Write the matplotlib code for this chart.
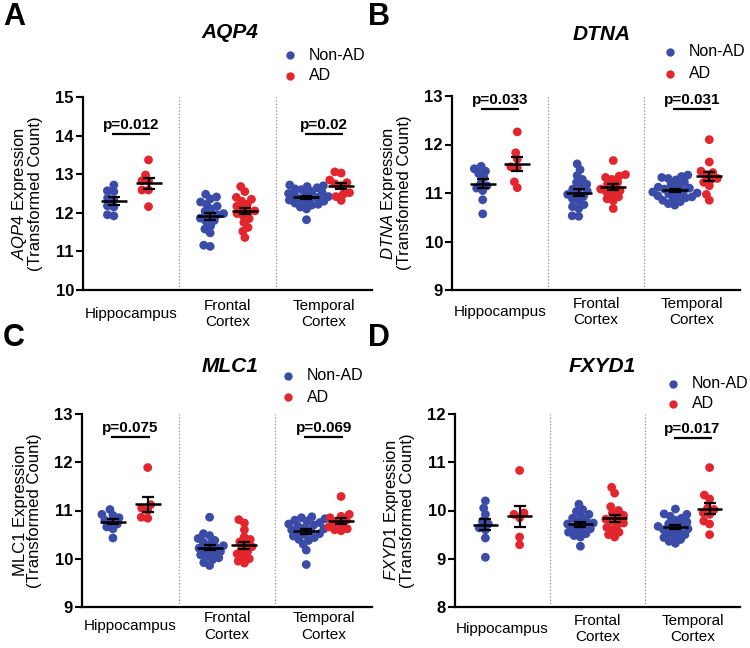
import numpy as np
import matplotlib.pyplot as plt
from matplotlib.lines import Line2D

plt.rcParams['font.family'] = 'Liberation Sans'
plt.rcParams['mathtext.fontset'] = 'custom'
plt.rcParams['mathtext.rm'] = 'Liberation Sans'
plt.rcParams['mathtext.it'] = 'Liberation Sans:italic'
plt.rcParams['mathtext.bf'] = 'Liberation Sans:bold'

regions = ['Hippocampus', 'Frontal\nCortex', 'Temporal\nCortex']
groups = ['Non-AD', 'AD']
colors = ['#3b4ca8', '#e3262d']

# AQP4
aqp4_hip_ctrl = [12.72, 12.57, 12.55, 12.38, 12.33, 12.18, 12.15, 11.92, 11.95]
aqp4_hip_ad = [13.37, 12.98, 12.83, 12.83, 12.59, 12.59, 12.16]
aqp4_fc_ctrl = [12.48, 12.41, 12.36, 12.28, 12.22, 12.17, 12.10, 12.04, 11.98, 11.95,
                11.92, 11.86, 11.80, 11.78, 11.66, 11.58, 11.48, 11.16, 11.13]
aqp4_fc_ad = [12.68, 12.55, 12.40, 12.35, 12.30, 12.22, 12.17, 12.10, 12.05, 12.02,
              11.98, 11.92, 11.85, 11.75, 11.62, 11.52, 11.36]
aqp4_tc_ctrl = [12.72, 12.70, 12.68, 12.65, 12.62, 12.60, 12.55, 12.52, 12.50, 12.48,
                12.45, 12.42, 12.40, 12.38, 12.36, 12.33, 12.30, 12.28, 12.25, 12.22,
                12.20, 12.15, 12.10, 11.82]
aqp4_tc_ad = [13.06, 13.03, 12.85, 12.78, 12.75, 12.70, 12.52, 12.48, 12.42, 12.32]
aqp4_p = ['p=0.012', None, 'p=0.02']

# DTNA
dtna_hip_ctrl = [11.55, 11.50, 11.45, 11.40, 11.32, 11.20, 11.15, 11.10, 11.05, 10.86, 10.57]
dtna_hip_ad = [12.26, 11.83, 11.70, 11.54, 11.52, 11.11, 11.23]
dtna_fc_ctrl = [11.60, 11.48, 11.36, 11.28, 11.22, 11.18, 11.12, 11.08, 11.04, 11.00,
                10.97, 10.93, 10.88, 10.84, 10.76, 10.72, 10.68, 10.53, 10.52]
dtna_fc_ad = [11.67, 11.38, 11.35, 11.32, 11.28, 11.22, 11.18, 11.12, 11.08, 11.05,
              11.02, 10.98, 10.92, 10.88, 10.84, 10.68]
dtna_tc_ctrl = [11.37, 11.34, 11.32, 11.30, 11.27, 11.22, 11.18, 11.15, 11.12, 11.10,
                11.08, 11.06, 11.04, 11.02, 11.00, 10.98, 10.96, 10.94, 10.92, 10.90,
                10.88, 10.85, 10.82, 10.78, 10.75]
dtna_tc_ad = [12.10, 11.64, 11.45, 11.42, 11.38, 11.30, 11.28, 11.22, 11.15, 10.97, 10.85]
dtna_p = ['p=0.033', None, 'p=0.031']

# MLC1
mlc1_hip_ctrl = [11.02, 10.92, 10.90, 10.85, 10.80, 10.76, 10.72, 10.66, 10.62, 10.43]
mlc1_hip_ad = [11.89, 11.12, 11.05, 11.00, 10.86, 10.84]
mlc1_fc_ctrl = [10.86, 10.52, 10.48, 10.42, 10.38, 10.34, 10.30, 10.27, 10.24, 10.22,
                10.18, 10.15, 10.12, 10.08, 10.05, 10.02, 9.98, 9.92, 9.86]
mlc1_fc_ad = [10.81, 10.74, 10.60, 10.45, 10.40, 10.35, 10.30, 10.25, 10.20, 10.15,
              10.10, 10.05, 10.00, 9.95, 9.91]
mlc1_tc_ctrl = [10.87, 10.85, 10.83, 10.80, 10.78, 10.75, 10.72, 10.70, 10.68, 10.65,
                10.62, 10.60, 10.58, 10.55, 10.52, 10.50, 10.47, 10.44, 10.40, 10.38,
                10.30, 10.18, 9.88]
mlc1_tc_ad = [11.29, 10.92, 10.88, 10.85, 10.80, 10.76, 10.72, 10.66, 10.62, 10.60, 10.58]
mlc1_p = ['p=0.075', None, 'p=0.069']

# FXYD1
fxyd1_hip_ctrl = [10.20, 10.05, 9.92, 9.78, 9.72, 9.64, 9.60, 9.43, 9.03]
fxyd1_hip_ad = [10.83, 9.95, 9.92, 9.85, 9.45, 9.29]
fxyd1_fc_ctrl = [10.13, 10.02, 9.98, 9.92, 9.88, 9.84, 9.80, 9.76, 9.74, 9.72,
                 9.68, 9.65, 9.62, 9.58, 9.55, 9.52, 9.48, 9.45, 9.26]
fxyd1_fc_ad = [10.48, 10.36, 10.08, 10.00, 9.95, 9.90, 9.86, 9.82, 9.78, 9.74,
               9.70, 9.65, 9.60, 9.55, 9.50, 9.45]
fxyd1_tc_ctrl = [10.03, 9.93, 9.92, 9.88, 9.84, 9.80, 9.76, 9.72, 9.70, 9.67,
                 9.64, 9.62, 9.60, 9.57, 9.54, 9.50, 9.47, 9.44, 9.40, 9.36, 9.32]
fxyd1_tc_ad = [10.89, 10.32, 10.24, 10.05, 10.02, 9.95, 9.92, 9.78, 9.72, 9.50]
fxyd1_p = [None, None, 'p=0.017']

W, H = 750, 648


def swarm(vals, px_per_unit, d=6.5):
    # simple beeswarm: offsets (pixels) so that dots don't pile up
    vals = np.asarray(vals)
    xs = np.zeros(len(vals))
    placed = []
    for i in np.argsort(vals):
        y = vals[i] * px_per_unit
        cands = [0.0]
        near = []
        for px, py in placed:
            dy = y - py
            if abs(dy) < d:
                dx = np.sqrt(d * d - dy * dy)
                near.append((px, dx))
                cands += [px - dx, px + dx]
        cands.sort(key=abs)
        for c in cands:
            if all(abs(c - px) >= dx - 1e-9 for px, dx in near):
                xs[i] = c
                break
        placed.append((xs[i], y))
    return xs


fig = plt.figure(figsize=(W / 100, H / 100), dpi=100)

panels = [
    dict(box=(83, 97, 372, 290), ylim=(10, 15),
         data=[[aqp4_hip_ctrl, aqp4_hip_ad], [aqp4_fc_ctrl, aqp4_fc_ad], [aqp4_tc_ctrl, aqp4_tc_ad]],
         pvals=aqp4_p, pline=14.05, ylabel='$\\mathit{AQP4}$ Expression\n(Transformed Count)',
         title='AQP4', tpos=(230, 33), leg=(290, 55, 76), letter='A', lpos=(3, 17), pad=17),
    dict(box=(452, 96, 740, 290), ylim=(9, 13),
         data=[[dtna_hip_ctrl, dtna_hip_ad], [dtna_fc_ctrl, dtna_fc_ad], [dtna_tc_ctrl, dtna_tc_ad]],
         pvals=dtna_p, pline=12.73, ylabel='$\\mathit{DTNA}$ Expression\n(Transformed Count)',
         title='DTNA', tpos=(602, 35), leg=(670, 52, 74), letter='B', lpos=(368, 17), pad=16),
    dict(box=(82, 414, 372, 607), ylim=(9, 13),
         data=[[mlc1_hip_ctrl, mlc1_hip_ad], [mlc1_fc_ctrl, mlc1_fc_ad], [mlc1_tc_ctrl, mlc1_tc_ad]],
         pvals=mlc1_p, pline=12.52, ylabel='MLC1 Expression\n(Transformed Count)',
         title='MLC1', tpos=(230, 367), leg=(288, 376, 397), letter='C', lpos=(3, 338), pad=14),
    dict(box=(455, 414, 740, 607), ylim=(8, 12),
         data=[[fxyd1_hip_ctrl, fxyd1_hip_ad], [fxyd1_fc_ctrl, fxyd1_fc_ad], [fxyd1_tc_ctrl, fxyd1_tc_ad]],
         pvals=fxyd1_p, pline=11.5, ylabel='$\\mathit{FXYD1}$ Expression\n(Transformed Count)',
         title='FXYD1', tpos=(602, 367), leg=(673, 384, 404), letter='D', lpos=(368, 338), pad=16),
]

for p in panels:
    l, t, r, b = p['box']
    ax = fig.add_axes([l / W, 1 - b / H, (r - l) / W, (b - t) / H])
    ax.set_xlim(0, 6)
    ax.set_ylim(*p['ylim'])
    xpx = (r - l) / 6
    ypx = (b - t) / (p['ylim'][1] - p['ylim'][0])

    for x in (2, 4):
        ax.axvline(x, ls=':', color='0.55', lw=0.9, zorder=1)

    for ri, pair in enumerate(p['data']):
        for gi, vals in enumerate(pair):
            vals = np.asarray(vals)
            xc = 2 * ri + 1 + (-0.36 if gi == 0 else 0.36)
            off = swarm(vals, ypx) / xpx
            ax.scatter(xc + off, vals, s=40, color=colors[gi], edgecolors='none',
                       zorder=2, clip_on=False)
            m = vals.mean()
            sem = vals.std(ddof=1) / np.sqrt(len(vals))
            ax.errorbar(xc, m, yerr=sem, fmt='none', ecolor='k', elinewidth=1.6,
                        capsize=4.5, capthick=1.6, zorder=3)
            ax.hlines(m, xc - 0.27, xc + 0.27, color='k', lw=1.8, zorder=3)

        if p['pvals'][ri]:
            xm = 2 * ri + 1
            ax.hlines(p['pline'], xm - 0.4, xm + 0.4, color='k', lw=1.6)
            ax.annotate(p['pvals'][ri], (xm, p['pline']), xytext=(0, 3.5),
                        textcoords='offset points', ha='center', va='baseline',
                        fontsize=11, fontweight='bold')

    for s in ('top', 'right'):
        ax.spines[s].set_visible(False)
    for s in ('left', 'bottom'):
        ax.spines[s].set_linewidth(1.6)
    ax.set_yticks(np.arange(p['ylim'][0], p['ylim'][1] + 1))
    ax.tick_params(axis='y', length=5, width=1.5, labelsize=12, pad=1.5)
    for lab in ax.get_yticklabels():
        lab.set_fontweight('bold')
    ax.set_xticks([1, 3, 5])
    ax.set_xticklabels(regions, fontsize=11, va='center')
    ax.tick_params(axis='x', length=0, pad=p['pad'])
    ax.set_ylabel(p['ylabel'], fontsize=12, labelpad=9, linespacing=0.95)

    fig.text(p['tpos'][0] / W, 1 - p['tpos'][1] / H, p['title'], ha='center', va='center',
             fontsize=15, fontweight='bold', fontstyle='italic')
    fig.text(p['lpos'][0] / W, 1 - p['lpos'][1] / H, p['letter'], ha='left', va='center',
             fontsize=22, fontweight='bold')
    lx, ly1, ly2 = p['leg']
    for gi, yy in enumerate((ly1, ly2)):
        fig.add_artist(Line2D([lx / W], [1 - yy / H], marker='o', ms=5, color=colors[gi],
                              transform=fig.transFigure))
        fig.text((lx + 19) / W, 1 - yy / H, groups[gi], ha='left', va='center', fontsize=11.5)

fig.savefig('out.png', dpi=100)
